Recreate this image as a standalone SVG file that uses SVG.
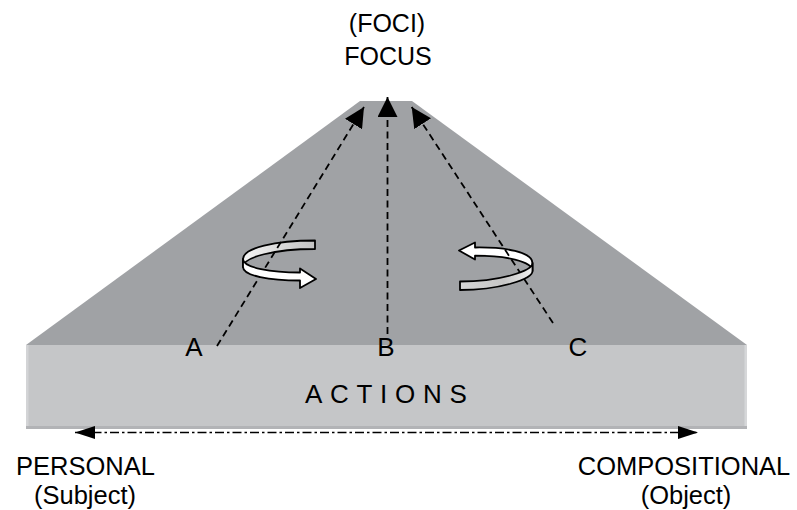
<svg xmlns="http://www.w3.org/2000/svg" width="797" height="510" viewBox="0 0 797 510">
  <style>
    .lbl { font-family: "Liberation Sans", Arial, sans-serif; font-size: 26px; fill: #000; }
    .pole { font-size: 25.5px; }
    .top { font-size: 25px; }
    .mid { text-anchor: middle; }
    .dash { fill: none; stroke: #000; stroke-width: 1.8; stroke-dasharray: 7 4.5; }
    .dashdot { fill: none; stroke: #000; stroke-width: 1.6; stroke-dasharray: 9 3 2.5 3; }
    .ribbon { stroke: #000; stroke-width: 1.8; stroke-linejoin: round; }
  </style>
  <defs>
    <marker id="headFocus" markerUnits="userSpaceOnUse" markerWidth="20" markerHeight="20" refX="20" refY="10" orient="auto" viewBox="0 0 20 20">
      <path d="M0,0 L20,10 L0,20 Z" fill="#000"/>
    </marker>
    <marker id="headAxis" markerUnits="userSpaceOnUse" markerWidth="20" markerHeight="13" refX="20" refY="6.5" orient="auto-start-reverse" viewBox="0 0 20 13">
      <path d="M0,0 L20,6.5 L0,13 Z" fill="#000"/>
    </marker>
    <linearGradient id="backLeft" gradientUnits="userSpaceOnUse" x1="243" y1="0" x2="315" y2="0">
      <stop offset="0" stop-color="#f4f4f4"/>
      <stop offset="1" stop-color="#c2c2c2"/>
    </linearGradient>
    <linearGradient id="frontRight" gradientUnits="userSpaceOnUse" x1="460" y1="0" x2="533" y2="0">
      <stop offset="0" stop-color="#d6d6d6"/>
      <stop offset="0.6" stop-color="#c6c6c6"/>
      <stop offset="1" stop-color="#f2f2f2"/>
    </linearGradient>
  </defs>

  <!-- pyramid body: sloped top face and the front slab -->
  <g id="body">
    <polygon points="26,345 360,101 412,101 747,345" fill="#a0a2a5"/>
    <rect x="26" y="345" width="721" height="84" fill="#c5c6c8"/>
    <rect x="26" y="345" width="2.5" height="84" fill="#d3d4d6"/>
    <rect x="744.5" y="345" width="2.5" height="84" fill="#d6d7d9"/>
    <rect x="26" y="426" width="721" height="3" fill="#b2b3b6"/>
  </g>

  <!-- rotation ribbon A: upper band (behind the line) -->
  <g id="ribbonA-back">
    <path class="ribbon" fill="url(#backLeft)" d="M315,240.5 C275,240.5 243,248 243,259 L243,267 C243,257 275,249 315,249 Z"/>
  </g>
  <!-- rotation ribbon C: upper band with arrowhead (behind the line) -->
  <g id="ribbonC-back">
    <path class="ribbon" fill="#fff" d="M475,247.5 C505,247 532.5,252 532.5,263 L532.5,271 C532.5,261 505,255.7 475,255.7 L475,259.5 L459,250.5 L475,242.5 Z"/>
  </g>

  <g id="connectors">
    <path class="dash" d="M217,346 L364,107" marker-end="url(#headFocus)"/>
    <path class="dash" d="M387.5,334 L387.5,97" marker-end="url(#headFocus)"/>
    <path class="dash" d="M553,323 L411.7,107" marker-end="url(#headFocus)"/>
    <path class="dashdot" d="M75,432.5 L698,432.5" marker-start="url(#headAxis)" marker-end="url(#headAxis)"/>
  </g>

  <!-- rotation ribbon A: front band with arrowhead -->
  <g id="ribbonA-front">
    <path class="ribbon" fill="#fff" d="M243,259 C243,268 272,272.5 300,272.5 L300,268.5 L316,279 L300,288 L300,280.5 C270,280.5 243,276 243,267 Z"/>
  </g>
  <!-- rotation ribbon C: front band -->
  <g id="ribbonC-front">
    <path class="ribbon" fill="url(#frontRight)" d="M532.5,263 C532.5,271 500,281.5 460,281.5 L460,290 C500,290 532.5,279 532.5,271 Z"/>
  </g>

  <g id="focus">
    <text class="lbl top mid" x="387" y="32">(FOCI)</text>
    <text class="lbl top mid" x="388" y="65">FOCUS</text>
  </g>
  <g id="point-a"><text class="lbl mid" x="194" y="356">A</text></g>
  <g id="point-b"><text class="lbl mid" x="386" y="356">B</text></g>
  <g id="point-c"><text class="lbl mid" x="578" y="356">C</text></g>
  <g id="actions"><text class="lbl" x="305" y="403" letter-spacing="7.7">ACTIONS</text></g>
  <g id="personal">
    <text class="lbl pole mid" x="85.5" y="474.5">PERSONAL</text>
    <text class="lbl pole mid" x="85" y="504">(Subject)</text>
  </g>
  <g id="compositional">
    <text class="lbl pole mid" x="684" y="474.5">COMPOSITIONAL</text>
    <text class="lbl pole mid" x="686" y="504">(Object)</text>
  </g>
</svg>
